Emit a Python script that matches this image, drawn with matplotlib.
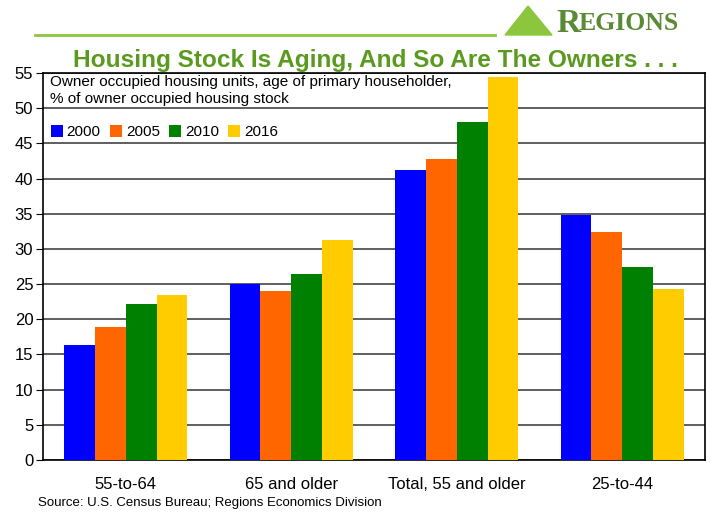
import matplotlib.pyplot as plt
import numpy as np
from matplotlib.patches import Polygon

plt.rcParams["font.family"] = ["Liberation Sans", "DejaVu Sans"]

categories = ["55-to-64", "65 and older", "Total, 55 and older", "25-to-44"]
years = ["2000", "2005", "2010", "2016"]
values = {
    "2000": [16.4, 25.0, 41.2, 34.8],
    "2005": [18.9, 24.0, 42.8, 32.4],
    "2010": [22.2, 26.4, 48.1, 27.5],
    "2016": [23.4, 31.2, 54.4, 24.3],
}
colors = ["#0000ff", "#ff6600", "#008000", "#ffcc00"]
yticks = list(range(0, 60, 5))

fig = plt.figure(figsize=(7.1, 5.12), dpi=100)
ax = fig.add_axes([43 / 710, 52 / 512, 662 / 710, 387 / 512])

x = np.arange(len(categories))
w = 0.186
for i, yr in enumerate(years):
    ax.bar(x + (i - 1.5) * w, values[yr], w, color=colors[i], label=yr, zorder=3)

ax.set_xlim(-0.5, len(categories) - 0.5)
ax.set_ylim(0, 55)
ax.set_yticks(yticks)
ax.tick_params(axis="y", labelsize=12, length=5, direction="out", pad=2)
ax.set_xticks(x)
ax.set_xticklabels(categories, fontsize=12)
ax.tick_params(axis="x", length=0, pad=12)
ax.yaxis.grid(True, color="#444444", linewidth=1.2, zorder=0)
for s in ax.spines.values():
    s.set_color("black")
    s.set_linewidth(1.2)

ax.text(0.01, 0.995, "Owner occupied housing units, age of primary householder,\n% of owner occupied housing stock",
        transform=ax.transAxes, ha="left", va="top", fontsize=11, linespacing=1.25,
        bbox=dict(facecolor="white", edgecolor="none", pad=1), zorder=5)
leg = ax.legend(loc="upper left", bbox_to_anchor=(0.0, 0.885), ncol=4, frameon=True, fontsize=11,
                handlelength=0.8, handleheight=0.8, handletextpad=0.25, columnspacing=0.6,
                borderaxespad=0.3, fancybox=False, edgecolor="none", borderpad=0.2)
leg.set_zorder(5)

fig.text(375 / 710, 1 - 60 / 512, "Housing Stock Is Aging, And So Are The Owners . . .",
         ha="center", va="center", fontsize=17.6, fontweight="bold", color="#5a9a1e")
fig.add_artist(plt.Line2D([35 / 710, 495 / 710], [1 - 35 / 512, 1 - 35 / 512], color="#8cc63f", linewidth=2))
fig.text(556 / 710, 1 - 23 / 512, "R", ha="left", va="center", fontsize=24, color="#5a8a35",
         fontweight="bold", family=["Liberation Serif"])
fig.text(579 / 710, 1 - 24 / 512, "EGIONS", ha="left", va="center", fontsize=18.5, color="#5a8a35",
         fontweight="bold", family=["Liberation Serif"])
fig.add_artist(Polygon([[505 / 710, 1 - 35 / 512], [528 / 710, 1 - 6 / 512], [552 / 710, 1 - 35 / 512]],
                       closed=True, transform=fig.transFigure, color="#8cc63f"))

fig.text(38 / 710, 1 - 503 / 512, "Source: U.S. Census Bureau; Regions Economics Division",
         ha="left", va="center", fontsize=9.5)

fig.savefig("out.png", dpi=100)
